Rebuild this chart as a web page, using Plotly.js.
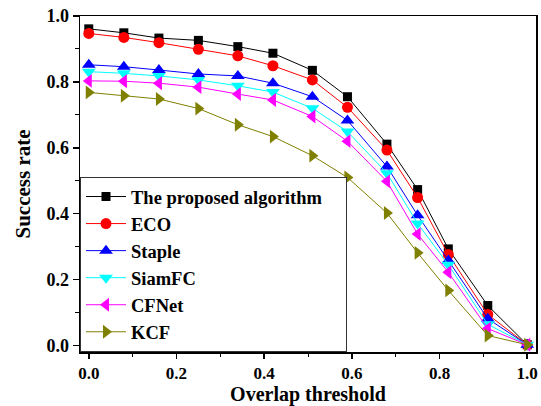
<!DOCTYPE html>
<html><head><meta charset="utf-8">
<script src="https://cdn.plot.ly/plotly-3.0.1.min.js"></script>
<style>html,body{margin:0;padding:0;background:#fff}#chart{width:541px;height:406px}</style>
</head><body><div id="chart"></div>
<script>
const thresholds = [0, 0.08, 0.16, 0.25, 0.34, 0.42, 0.51, 0.59, 0.68, 0.75, 0.82, 0.91, 1.0];
const proposed = [0.961, 0.949, 0.933, 0.926, 0.907, 0.887, 0.835, 0.755, 0.611, 0.473, 0.293, 0.121, 0.002];
const eco      = [0.947, 0.935, 0.919, 0.899, 0.879, 0.849, 0.806, 0.723, 0.593, 0.449, 0.276, 0.094, 0.002];
const staple   = [0.852, 0.846, 0.836, 0.824, 0.818, 0.796, 0.755, 0.683, 0.543, 0.395, 0.258, 0.081, 0.002];
const siamfc   = [0.831, 0.826, 0.818, 0.806, 0.788, 0.769, 0.720, 0.649, 0.523, 0.370, 0.245, 0.064, 0.002];
const cfnet    = [0.803, 0.802, 0.796, 0.784, 0.763, 0.745, 0.695, 0.620, 0.498, 0.338, 0.222, 0.051, 0.002];
const kcf      = [0.768, 0.758, 0.748, 0.719, 0.670, 0.634, 0.576, 0.510, 0.402, 0.281, 0.167, 0.030, 0.002];
const names = ["The proposed algorithm\u00A0\u00A0\u00A0\u00A0", "ECO", "Staple", "SiamFC", "CFNet", "KCF"];
const xTickLabels = ["0.0", "0.2", "0.4", "0.6", "0.8", "1.0"];
const yTickLabels = ["0.0", "0.2", "0.4", "0.6", "0.8", "1.0"];

const series = [proposed, eco, staple, siamfc, cfnet, kcf];
const colors = ["#000000", "#FF0000", "#0000FF", "#00FFFF", "#FF00FF", "#808000"];
const symbols = ["square", "circle", "triangle-up", "triangle-down", "triangle-left", "triangle-right"];
const sizes = [9, 11, 12, 12, 12, 12];

const FONT = "Times New Roman, Liberation Serif, serif";
const traces = series.map((ys, i) => ({
  x: thresholds, y: ys, name: names[i], type: "scatter", mode: "lines+markers",
  line: {color: colors[i], width: 1},
  marker: {color: colors[i], symbol: symbols[i], size: sizes[i]}
}));
const tickVals = xTickLabels.map(Number);
const layout = {
  width: 541, height: 406,
  margin: {l: 80, r: 5, t: 16, b: 54},
  paper_bgcolor: "#fff", plot_bgcolor: "#fff",
  font: {family: FONT, color: "#000", size: 18},
  showlegend: true,
  legend: {x: 0, y: 0, xanchor: "left", yanchor: "bottom", bgcolor: "#fff",
    bordercolor: "#333", borderwidth: 1, font: {family: FONT, size: 18.5, weight: "bold"},
    tracegroupgap: 0, itemwidth: 40},
  xaxis: {range: [-0.02, 1.02], tickvals: tickVals, ticktext: xTickLabels,
    ticks: "outside", ticklen: 5, tickwidth: 1.5, tickcolor: "#000",
    minor: {dtick: 0.1, tick0: 0, ticks: "outside", ticklen: 3, tickwidth: 1, tickcolor: "#000", showgrid: false},
    showline: true, linecolor: "#000", linewidth: 1.5, mirror: true, showgrid: false, zeroline: false,
    tickfont: {family: FONT, size: 17, weight: "bold"},
    title: {text: "Overlap threshold", font: {family: FONT, size: 20, weight: "bold"}, standoff: 7}},
  yaxis: {range: [-0.02, 1.0], tickvals: yTickLabels.map(Number), ticktext: yTickLabels,
    ticks: "outside", ticklen: 6, tickwidth: 1.5, tickcolor: "#000",
    minor: {dtick: 0.1, tick0: 0, ticks: "outside", ticklen: 4, tickwidth: 1, tickcolor: "#000", showgrid: false},
    showline: true, linecolor: "#000", linewidth: 1.5, mirror: true, showgrid: false, zeroline: false,
    tickfont: {family: FONT, size: 18, weight: "bold"},
    title: {text: "Success rate", font: {family: FONT, size: 21, weight: "bold"}, standoff: 10}},
  xaxis2: {overlaying: "x", side: "top", range: [-0.02, 1.02], tickvals: tickVals, showticklabels: false,
    ticks: "inside", ticklen: 6, tickwidth: 1.5, tickcolor: "#000",
    minor: {dtick: 0.1, tick0: 0, ticks: "inside", ticklen: 4, tickwidth: 1, tickcolor: "#000", showgrid: false},
    showline: false, showgrid: false, zeroline: false},
  yaxis2: {overlaying: "y", side: "right", range: [-0.02, 1.0], tickvals: yTickLabels.map(Number), showticklabels: false,
    ticks: "inside", ticklen: 6, tickwidth: 1.5, tickcolor: "#000",
    minor: {dtick: 0.1, tick0: 0, ticks: "inside", ticklen: 4, tickwidth: 1, tickcolor: "#000", showgrid: false},
    showline: false, showgrid: false, zeroline: false}
};
Plotly.newPlot("chart", traces, layout, {displayModeBar: false, staticPlot: true});
</script></body></html>
